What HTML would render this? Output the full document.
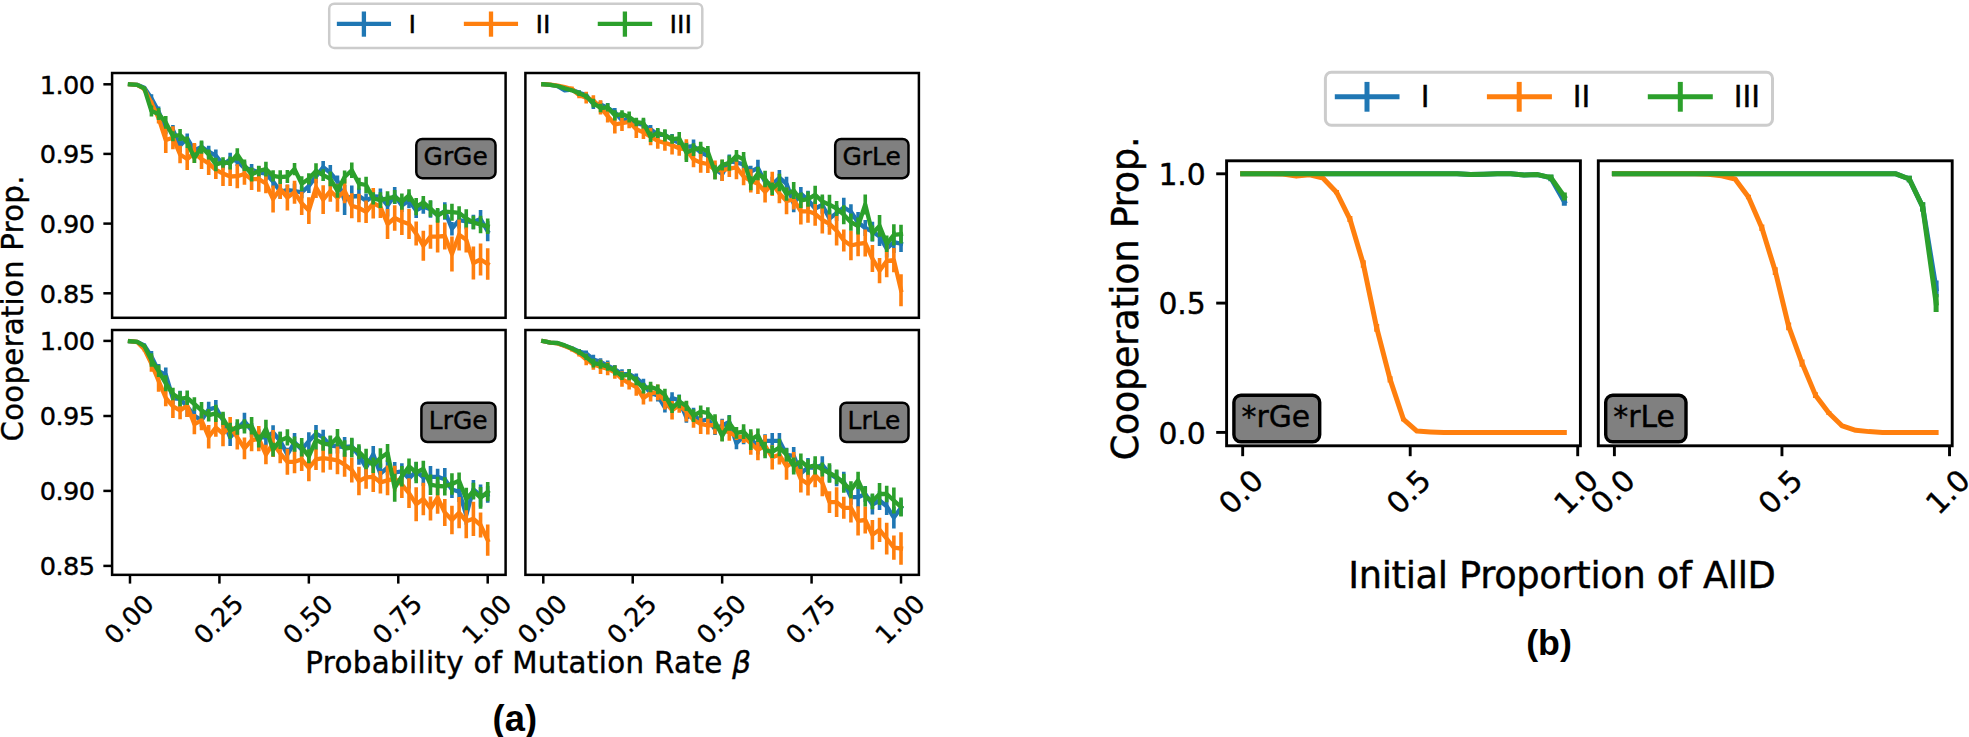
<!DOCTYPE html>
<html lang="en"><head><meta charset="utf-8"><title>Cooperation proportion figures</title>
<style>html,body{margin:0;padding:0;background:#fff}svg{display:block}text{font-family:"DejaVu Sans","Liberation Sans",sans-serif;fill:#000;stroke:#000;stroke-width:0.4px}.cap{font-family:"Liberation Sans","DejaVu Sans",sans-serif;font-weight:bold;stroke:none}</style></head><body>
<svg width="1969" height="737" viewBox="0 0 1969 737">
<rect width="1969" height="737" fill="#fff"/>
<g id="figure-a">
<g id="panel-a1">
<polyline points="129.99,84.3 137.14,84.8 144.3,87.8 151.45,98.2 158.6,111.6 165.76,128.5 172.91,130 180.07,145.6 187.22,138.3 194.38,150.5 201.53,146.8 208.69,151.7 215.84,155.7 223,164.5 230.15,159.6 237.3,161 244.46,168.2 251.61,169.7 258.77,172.4 265.92,173.7 273.08,181.6 280.23,191.5 287.39,190.2 294.54,191 301.7,192.3 308.85,186 316,176.4 323.16,167.2 330.31,172.7 337.47,181.3 344.62,200 351.78,196.5 358.93,196 366.09,200.8 373.24,196.5 380.4,196.7 387.55,205.5 394.7,195.5 401.86,205.6 409.01,200.5 416.17,210.4 423.32,206.7 430.48,209.2 437.63,215.3 444.79,211 451.94,228.7 459.1,220.2 466.25,221.4 473.4,222 480.56,219 487.71,231.2" fill="none" stroke="#1f77b4" stroke-width="4.3" stroke-linejoin="round" stroke-linecap="square"/>
<path d="M144.3 86.27V89.33M151.45 94.2V102.2M158.6 106.6V116.6M165.76 122.68V134.32M172.91 125V135M180.07 139.1V152.1M187.22 133.5V143.1M194.38 143.92V157.08M201.53 141.52V152.08M208.69 145.65V157.75M215.84 149.53V161.87M223 159.13V169.87M230.15 152.68V166.52M237.3 155.88V166.12M244.46 161.16V175.24M251.61 164.12V175.28M258.77 165.91V178.89M265.92 167.18V180.22M273.08 175.85V187.35M280.23 184.17V198.83M287.39 184.76V195.64M294.54 183.51V198.49M301.7 186.41V198.19M308.85 179.06V192.94M316 169.54V183.26M323.16 161.06V173.34M330.31 164.96V180.44M337.47 175.54V187.06M344.62 185V215M351.78 185.5V207.5M358.93 188.61V203.39M366.09 193.6V208M373.24 189.96V203.04M380.4 188.56V204.84M387.55 194.5V216.5M394.7 187.09V203.91M401.86 199.12V212.08M409.01 192.65V208.35M416.17 202.88V217.92M423.32 199.76V213.64M430.48 200.66V217.74M437.63 208.88V221.72M444.79 202.14V219.86M451.94 221.92V235.48M459.1 211.89V228.51M466.25 213.56V229.24M473.4 214.65V229.35M480.56 210.07V227.93M487.71 221.2V241.2" fill="none" stroke="#1f77b4" stroke-width="3.6"/>
<polyline points="129.99,84.3 137.14,84.9 144.3,89 151.45,103 158.6,118.1 165.76,140 172.91,137.7 180.07,154.5 187.22,159 194.38,153 201.53,159 208.69,163.3 215.84,169.8 223,173.5 230.15,176.5 237.3,176.2 244.46,174 251.61,179.2 258.77,179.2 265.92,183.5 273.08,199 280.23,189 287.39,197.5 294.54,192.3 301.7,203.3 308.85,210.6 316,187.4 323.16,199.6 330.31,191 337.47,197.8 344.62,191 351.78,205.7 358.93,208 366.09,211.8 373.24,203.3 380.4,206.8 387.55,224 394.7,218 401.86,221.5 409.01,224 416.17,233.6 423.32,245.7 430.48,236.7 437.63,236.7 444.79,236 451.94,254 459.1,234.8 466.25,239.7 473.4,263 480.56,259.5 487.71,264" fill="none" stroke="#ff7f0e" stroke-width="4.3" stroke-linejoin="round" stroke-linecap="square"/>
<path d="M144.3 86.65V91.35M151.45 100.5V105.5M158.6 112.6V123.6M165.76 127V153M172.91 126.13V149.27M180.07 145.77V163.23M187.22 147.91V170.09M194.38 142.88V163.12M201.53 149.08V168.92M208.69 151.59V175.01M215.84 160.72V178.88M223 161V186M230.15 167.12V185.88M237.3 164.17V188.23M244.46 163.19V184.81M251.61 168.43V189.97M258.77 166.67V191.73M265.92 173.71V193.29M273.08 185.57V212.43M280.23 178.98V199.02M287.39 184.52V210.48M294.54 180.81V203.79M301.7 191.67V214.93M308.85 197.26V223.94M316 176.88V197.92M323.16 185.24V213.96M330.31 180.34V201.66M337.47 183.87V211.73M344.62 178.84V203.16M351.78 193.2V218.2M358.93 193.87V222.13M366.09 200.55V223.05M373.24 188.02V218.58M380.4 195.5V218.1M387.55 209.1V238.9M394.7 205.18V230.82M401.86 208.12V234.88M409.01 209.09V238.91M416.17 221.6V245.6M423.32 230.7V260.7M430.48 224.76V248.64M437.63 220.84V252.56M444.79 222.53V249.47M451.94 236.5V271.5M459.1 219.13V250.47M466.25 226.95V252.45M473.4 246.5V279.5M480.56 243.5V275.5M487.71 248.3V279.7" fill="none" stroke="#ff7f0e" stroke-width="3.6"/>
<polyline points="129.99,84.3 137.14,84.8 144.3,88.4 151.45,111 158.6,114 165.76,122.4 172.91,136.2 180.07,135 187.22,142.3 194.38,157.8 201.53,147.1 208.69,154.5 215.84,164.5 223,162.4 230.15,163 237.3,154.5 244.46,165.2 251.61,174.4 258.77,171 265.92,169.1 273.08,175.9 280.23,177.1 287.39,176.5 294.54,169.1 301.7,183.7 308.85,178.8 316,170.9 323.16,175.2 330.31,178.8 337.47,191 344.62,177 351.78,170.3 358.93,183.7 366.09,185 373.24,198.4 380.4,200.1 387.55,198.3 394.7,196.8 401.86,201.6 409.01,195.5 416.17,206.7 423.32,202.5 430.48,208.6 437.63,215.3 444.79,211.6 451.94,212.2 459.1,212.9 466.25,218.4 473.4,222.6 480.56,224.5 487.71,226.3" fill="none" stroke="#2ca02c" stroke-width="4.3" stroke-linejoin="round" stroke-linecap="square"/>
<path d="M144.3 87.17V89.63M151.45 105.5V116.5M158.6 108V120M165.76 116.01V128.79M172.91 131.23V141.17M180.07 129.03V140.97M187.22 136.5V148.1M194.38 152.5V163.1M201.53 140.51V153.69M208.69 149.55V159.45M215.84 157.66V171.34M223 157.13V167.67M230.15 156.58V169.42M237.3 148.36V160.64M244.46 159.51V170.89M251.61 167.4V181.4M258.77 165.72V176.28M265.92 161.8V176.4M273.08 170.33V181.47M280.23 170.23V183.97M287.39 170.03V182.97M294.54 163.01V175.19M301.7 176.31V191.09M308.85 173.19V184.41M316 163.15V178.65M323.16 169.33V181.07M330.31 171.47V186.13M337.47 184.21V197.79M344.62 170.5V183.5M351.78 162.52V178.08M358.93 177.75V189.65M366.09 176.8V193.2M373.24 192.23V204.57M380.4 192.31V207.89M387.55 191.19V205.41M394.7 189.89V203.71M401.86 193.43V209.77M409.01 189.21V201.79M416.17 198.06V215.34M423.32 196.03V208.97M430.48 200.35V216.85M437.63 207.88V222.72M444.79 204.27V218.93M451.94 203.65V220.75M459.1 206.26V219.54M466.25 209.31V227.49M473.4 215.83V229.37M480.56 215.78V233.22M487.71 218.57V234.03" fill="none" stroke="#2ca02c" stroke-width="3.6"/>
<rect x="112.1" y="73" width="393.5" height="244.8" fill="none" stroke="#000" stroke-width="2.5"/>
</g>
<g id="panel-a2">
<polyline points="543.29,84.2 550.44,84.8 557.6,86.2 564.75,90.3 571.9,89.7 579.06,92.7 586.21,95.1 593.37,104.3 600.52,104.3 607.68,108 614.83,112.2 621.99,120.2 629.14,119 636.3,123.2 643.45,125 650.6,129.3 657.76,134.8 664.91,134.8 672.07,139.7 679.22,142.8 686.38,147 693.53,146.2 700.69,152.4 707.84,155.7 715,169.2 722.15,174.1 729.3,161.3 736.46,162.5 743.61,164.3 750.77,171.6 757.92,168 765.08,182 772.23,184.5 779.39,177.7 786.54,183.8 793.7,203.4 800.85,193.6 808,200 815.16,208.5 822.31,205 829.47,218.5 836.62,213.1 843.78,207.5 850.93,211.7 858.09,222.5 865.24,228 872.4,231.6 879.55,236.5 886.7,248.7 893.86,242.2 901.01,243.8" fill="none" stroke="#1f77b4" stroke-width="4.3" stroke-linejoin="round" stroke-linecap="square"/>
<path d="M571.9 88.26V91.14M579.06 90.21V95.19M586.21 92.19V98.01M593.37 99.56V109.04M600.52 100.72V107.88M607.68 103V113M614.83 108.1V116.3M621.99 115.41V124.99M629.14 114.02V123.98M636.3 118.79V127.61M643.45 119.22V130.78M650.6 124.95V133.65M657.76 128.72V140.88M664.91 129.9V139.7M672.07 133.92V145.48M679.22 136.9V148.7M686.38 141.72V152.28M693.53 139.38V153.02M700.69 147.27V157.53M707.84 148.55V162.85M715 163.51V174.89M722.15 167.31V180.89M729.3 154.5V168.1M736.46 156.35V168.65M743.61 156.45V172.15M750.77 165.69V177.51M757.92 159.76V176.24M765.08 175.53V188.47M772.23 176.69V192.31M779.39 170.02V185.38M786.54 176.75V190.85M793.7 194.53V212.27M800.85 186.91V200.29M808 190.68V209.32M815.16 201.25V215.75M822.31 196.15V213.85M829.47 209.94V227.06M836.62 205.15V221.05M843.78 197.63V217.37M850.93 204.22V219.18M858.09 212.1V232.9M865.24 219.99V236.01M872.4 221.7V241.5M879.55 227.09V245.91M886.7 239.82V257.58M893.86 231.33V253.07M901.01 235.52V252.08" fill="none" stroke="#1f77b4" stroke-width="3.6"/>
<polyline points="543.29,84.2 550.44,84.7 557.6,85.6 564.75,87.2 571.9,89 579.06,95.1 586.21,97.6 593.37,100.6 600.52,107.4 607.68,116 614.83,124.5 621.99,123.2 629.14,122 636.3,129.3 643.45,132.4 650.6,136.7 657.76,141 664.91,142.8 672.07,145.2 679.22,148.3 686.38,149.5 693.53,159.5 700.69,162.6 707.84,164 715,169.8 722.15,170.4 729.3,168.6 736.46,167.4 743.61,176.5 750.77,180.8 757.92,183.8 765.08,191.8 772.23,183.8 779.39,193.6 786.54,201 793.7,199.7 800.85,211.4 808,211.3 815.16,213.8 822.31,220 829.47,223.8 836.62,230.8 843.78,240.6 850.93,245.5 858.09,243.8 865.24,243 872.4,258.5 879.55,270.7 886.7,261 893.86,260.1 901.01,290.2" fill="none" stroke="#ff7f0e" stroke-width="4.3" stroke-linejoin="round" stroke-linecap="square"/>
<path d="M571.9 86.56V91.44M579.06 91.99V98.21M586.21 91.78V103.42M593.37 95.13V106.07M600.52 100.32V114.48M607.68 109.42V122.58M614.83 115.5V133.5M621.99 115.33V131.07M629.14 115.81V128.19M636.3 120.64V137.96M643.45 125.81V138.99M650.6 128.12V145.28M657.76 133.19V148.81M664.91 134.92V150.68M672.07 135.9V154.5M679.22 140.95V155.65M686.38 139.29V159.71M693.53 151.8V167.2M700.69 152.51V172.69M707.84 154.97V173.03M715 160.57V179.03M722.15 159.7V181.1M729.3 160.08V177.12M736.46 155.65V179.15M743.61 167.69V185.31M750.77 169.18V192.42M757.92 173.57V194.03M765.08 181.2V202.4M772.23 171.71V195.89M779.39 183.89V203.31M786.54 187.71V214.29M793.7 189.79V209.61M800.85 198.24V224.56M808 199.89V222.71M815.16 201.8V225.8M822.31 206.54V233.46M829.47 212.89V234.71M836.62 215.98V245.62M843.78 229.6V251.6M850.93 230.79V260.21M858.09 231.23V256.37M865.24 229.59V256.41M872.4 245.1V271.9M879.55 258.1V283.3M886.7 244.66V277.34M893.86 248V272.2M901.01 274.2V306.2" fill="none" stroke="#ff7f0e" stroke-width="3.6"/>
<polyline points="543.29,84.2 550.44,84.8 557.6,86 564.75,88.4 571.9,90.3 579.06,93.3 586.21,96.4 593.37,103.1 600.52,108 607.68,107.4 614.83,115.3 621.99,114.1 629.14,117.1 636.3,122 643.45,123.2 650.6,136.7 657.76,133 664.91,135.4 672.07,139.1 679.22,138.5 686.38,152.5 693.53,149.6 700.69,147.8 707.84,151.7 715,172.3 722.15,164.9 729.3,163.1 736.46,155.8 743.61,159.4 750.77,183.2 757.92,173.5 765.08,179 772.23,188.7 779.39,182.6 786.54,194.2 793.7,190.6 800.85,200.3 808,199.1 815.16,194.8 822.31,201.5 829.47,204.7 836.62,208.5 843.78,214.7 850.93,222.2 858.09,226 865.24,204.5 872.4,233.3 879.55,225.9 886.7,243.8 893.86,234.9 901.01,234.1" fill="none" stroke="#2ca02c" stroke-width="4.3" stroke-linejoin="round" stroke-linecap="square"/>
<path d="M571.9 89.11V91.49M579.06 90.57V96.03M586.21 93.51V99.29M593.37 98.75V107.45M600.52 103.68V112.32M607.68 103.37V111.43M614.83 110.18V120.42M621.99 110.18V118.02M629.14 111.58V122.62M636.3 117.67V126.33M643.45 117.84V128.56M650.6 131.49V141.91M657.76 128.08V137.92M664.91 129.26V141.54M672.07 134.4V143.8M679.22 131.9V145.1M686.38 143.1V161.9M693.53 143.21V155.99M700.69 141.71V153.89M707.84 145.88V157.52M715 165.15V179.45M722.15 159.41V170.39M729.3 155.43V170.77M736.46 149.91V161.69M743.61 151.97V166.83M750.77 176.24V190.16M757.92 166.77V180.23M765.08 170.85V187.15M772.23 182.41V194.99M779.39 173.85V191.35M786.54 187.54V200.86M793.7 182.12V199.08M800.85 192.49V208.11M808 191.44V206.76M815.16 185.67V203.93M822.31 194.4V208.6M829.47 194.87V214.53M836.62 201.08V215.92M843.78 205.16V224.24M850.93 213.55V230.85M858.09 217.39V234.61M865.24 194.39V214.61M872.4 225.39V241.21M879.55 214.99V236.81M886.7 235.62V251.98M893.86 224.29V245.51M901.01 224.63V243.57" fill="none" stroke="#2ca02c" stroke-width="3.6"/>
<rect x="525.4" y="73" width="393.5" height="244.8" fill="none" stroke="#000" stroke-width="2.5"/>
</g>
<g id="panel-a3">
<polyline points="129.99,341.2 137.14,341.8 144.3,345.5 151.45,356.4 158.6,371.1 165.76,374.7 172.91,398.4 180.07,398.8 187.22,406.5 194.38,415.8 201.53,420.2 208.69,409.4 215.84,407.6 223,420.2 230.15,437.4 237.3,428.8 244.46,421.5 251.61,430 258.77,437.4 265.92,437.4 273.08,432.5 280.23,441 287.39,454.5 294.54,442.3 301.7,449.6 308.85,441 316,433.7 323.16,437.4 330.31,445.7 337.47,446.4 344.62,447 351.78,446.3 358.93,455.4 366.09,467.6 373.24,454.2 380.4,473.7 387.55,467.6 394.7,472.5 401.86,471.3 409.01,478.6 416.17,471.3 423.32,477.4 430.48,476.8 437.63,476.8 444.79,479.2 451.94,489.5 459.1,491.7 466.25,515 473.4,489.3 480.56,495.6 487.71,494.4" fill="none" stroke="#1f77b4" stroke-width="4.3" stroke-linejoin="round" stroke-linecap="square"/>
<path d="M144.3 343.59V347.41M151.45 350.96V361.84M158.6 364.08V378.12M165.76 367.42V381.98M172.91 392.16V404.64M180.07 390.67V406.93M187.22 396V417M194.38 407.58V424.02M201.53 413.6V426.8M208.69 401.84V416.96M215.84 399.88V415.32M223 413.49V426.91M230.15 428.75V446.05M237.3 422.4V435.2M244.46 412.71V430.29M251.61 423.02V436.98M258.77 429.29V445.51M265.92 429.25V445.55M273.08 425.31V439.69M280.23 431.83V450.17M287.39 447.7V461.3M294.54 432.93V451.67M301.7 442.24V456.96M308.85 432.33V449.67M316 425.12V442.28M323.16 429.72V445.08M330.31 436.02V455.38M337.47 439.19V453.61M344.62 437.06V456.94M351.78 438.57V454.03M358.93 446.16V464.64M366.09 458.61V476.59M373.24 446.03V462.37M380.4 463.52V483.88M387.55 459.99V475.21M394.7 461.99V483.01M401.86 463.2V479.4M409.01 468.79V488.41M416.17 461.9V480.7M423.32 468.73V486.07M430.48 466.12V487.48M437.63 468.77V484.83M444.79 468.12V490.28M451.94 481.03V497.97M459.1 481.31V502.09M466.25 505.2V524.8M473.4 480.12V498.48M480.56 484.43V506.77M487.71 485.95V502.85" fill="none" stroke="#1f77b4" stroke-width="3.6"/>
<polyline points="129.99,341.2 137.14,342 144.3,349.1 151.45,363.7 158.6,380.8 165.76,398 172.91,406.4 180.07,410.4 187.22,405.8 194.38,424.2 201.53,420.3 208.69,436.8 215.84,427.6 223,433.7 230.15,426.4 237.3,437.4 244.46,448.4 251.61,440.4 258.77,438.6 265.92,454.5 273.08,443.5 280.23,453.3 287.39,461.8 294.54,461.8 301.7,459.4 308.85,468 316,459.4 323.16,458.2 330.31,459.2 337.47,460.4 344.62,464.7 351.78,470 358.93,481 366.09,477.4 373.24,476.8 380.4,482.3 387.55,480.4 394.7,478.6 401.86,484.7 409.01,493.2 416.17,504.2 423.32,499 430.48,508.5 437.63,497.8 444.79,512.5 451.94,520 459.1,512.7 466.25,521.3 473.4,518.8 480.56,525 487.71,540.2" fill="none" stroke="#ff7f0e" stroke-width="4.3" stroke-linejoin="round" stroke-linecap="square"/>
<path d="M144.3 346.75V351.45M151.45 355.75V371.65M158.6 369.92V391.68M165.76 389.63V406.37M172.91 394.83V417.97M180.07 401.67V419.13M187.22 394.71V416.89M194.38 414.08V434.32M201.53 410.38V430.22M208.69 425.09V448.51M215.84 418.52V436.68M223 421.2V446.2M230.15 417.02V435.78M237.3 425.37V449.43M244.46 437.59V459.21M251.61 429.63V451.17M258.77 426.07V451.13M265.92 444.71V464.29M273.08 430.07V456.93M280.23 443.28V463.32M287.39 448.82V474.78M294.54 450.31V473.29M301.7 447.77V471.03M308.85 454.66V481.34M316 448.88V469.92M323.16 443.84V472.56M330.31 448.54V469.86M337.47 446.47V474.33M344.62 452.54V476.86M351.78 457.5V482.5M358.93 466.87V495.13M366.09 466.15V488.65M373.24 461.52V492.08M380.4 471V493.6M387.55 465.5V495.3M394.7 465.78V491.42M401.86 471.32V498.08M409.01 478.29V508.11M416.17 487.2V521.2M423.32 482.81V515.19M430.48 496.56V520.44M437.63 481.94V513.66M444.79 499.03V525.97M451.94 505.72V534.28M459.1 497.03V528.37M466.25 504.3V538.3M473.4 501.7V535.9M480.56 512.42V537.58M487.71 524.6V555.8" fill="none" stroke="#ff7f0e" stroke-width="3.6"/>
<polyline points="129.99,341.2 137.14,341.8 144.3,346 151.45,360.1 158.6,371.1 165.76,383.3 172.91,394 180.07,398.7 187.22,397.8 194.38,404 201.53,410.3 208.69,415.2 215.84,413.4 223,418.3 230.15,430.7 237.3,427 244.46,426.4 251.61,425.8 258.77,441 265.92,428.8 273.08,449.6 280.23,440.4 287.39,437.4 294.54,444.1 301.7,447.2 308.85,456.3 316,439.8 323.16,443.5 330.31,444.6 337.47,437.5 344.62,448.5 351.78,447.5 358.93,451.7 366.09,459 373.24,465.2 380.4,457.9 387.55,453 394.7,487.8 401.86,476.2 409.01,466.4 416.17,472.5 423.32,468.8 430.48,484.7 437.63,486 444.79,486.3 451.94,484 459.1,480.7 466.25,499 473.4,491.1 480.56,497.8 487.71,491.7" fill="none" stroke="#2ca02c" stroke-width="4.3" stroke-linejoin="round" stroke-linecap="square"/>
<path d="M144.3 344.46V347.54M151.45 353.33V366.87M158.6 365.32V376.88M165.76 375.31V391.29M172.91 387.79V400.21M180.07 391.24V406.16M187.22 390.55V405.05M194.38 397.37V410.63M201.53 402.06V418.54M208.69 409.01V421.39M215.84 404.85V421.95M223 411.71V424.89M230.15 422.68V438.72M237.3 419.33V434.67M244.46 419.28V433.52M251.61 417.05V434.55M258.77 434.4V447.6M265.92 419.68V437.92M273.08 442.63V456.57M280.23 431.81V448.99M287.39 429.32V445.48M294.54 436.48V451.72M301.7 437.96V456.44M308.85 449.28V463.32M316 430.12V449.48M323.16 436.16V450.84M330.31 435.44V453.76M337.47 429.01V445.99M344.62 440.37V456.63M351.78 437.77V457.23M358.93 444.26V459.14M366.09 448.75V469.25M373.24 457.48V472.92M380.4 448.17V467.63M387.55 444.11V461.89M394.7 473.8V501.8M401.86 465.99V486.41M409.01 458.54V474.26M416.17 461.69V483.31M423.32 460.71V476.89M430.48 474.39V495.01M437.63 476.72V495.28M444.79 477.13V495.47M451.94 473.32V494.68M459.1 472.4V489M466.25 487.64V510.36M473.4 482.64V499.56M480.56 486.9V508.7M487.71 482.04V501.36" fill="none" stroke="#2ca02c" stroke-width="3.6"/>
<rect x="112.1" y="330" width="393.5" height="244.85" fill="none" stroke="#000" stroke-width="2.5"/>
</g>
<g id="panel-a4">
<polyline points="543.29,341.2 550.44,342.7 557.6,343.2 564.75,345.8 571.9,348.3 579.06,351.5 586.21,353.4 593.37,359.5 600.52,361.9 607.68,365.6 614.83,369.2 621.99,374.1 629.14,374.1 636.3,377.8 643.45,384.5 650.6,393 657.76,395.5 664.91,407.7 672.07,398 679.22,400.4 686.38,417.5 693.53,414.5 700.69,421 707.84,419.3 715,429.2 722.15,425.5 729.3,421.9 736.46,443.2 743.61,436.5 750.77,439 757.92,446.3 765.08,440.8 772.23,440.8 779.39,440.8 786.54,454.8 793.7,455.8 800.85,473.4 808,467.3 815.16,467.8 822.31,465 829.47,473.6 836.62,478.2 843.78,481.7 850.93,497.2 858.09,497.2 865.24,494 872.4,504.5 879.55,500.5 886.7,506.2 893.86,517.6 901.01,507.8" fill="none" stroke="#1f77b4" stroke-width="4.3" stroke-linejoin="round" stroke-linecap="square"/>
<path d="M571.9 346.86V349.74M579.06 349.01V353.99M586.21 350.49V356.31M593.37 354.76V364.24M600.52 358.32V365.48M607.68 360.6V370.6M614.83 365.1V373.3M621.99 369.31V378.89M629.14 369.12V379.08M636.3 373.39V382.21M643.45 378.72V390.28M650.6 388.65V397.35M657.76 389.42V401.58M664.91 402.8V412.6M672.07 392.22V403.78M679.22 394.5V406.3M686.38 412.22V422.78M693.53 407.68V421.32M700.69 415.87V426.13M707.84 412.15V426.45M715 423.51V434.89M722.15 418.71V432.29M729.3 415.1V428.7M736.46 437.05V449.35M743.61 428.65V444.35M750.77 433.09V444.91M757.92 438.06V454.54M765.08 434.33V447.27M772.23 432.99V448.61M779.39 433.12V448.48M786.54 447.75V461.85M793.7 446.93V464.67M800.85 466.71V480.09M808 457.98V476.62M815.16 460.55V475.05M822.31 456.15V473.85M829.47 465.04V482.16M836.62 470.25V486.15M843.78 471.83V491.57M850.93 489.72V504.68M858.09 486.8V507.6M865.24 485.99V502.01M872.4 494.6V514.4M879.55 491.09V509.91M886.7 497.32V515.08M893.86 506.73V528.47M901.01 499.52V516.08" fill="none" stroke="#1f77b4" stroke-width="3.6"/>
<polyline points="543.29,341.2 550.44,342.7 557.6,343.4 564.75,346 571.9,349.1 579.06,353.4 586.21,359.5 593.37,364.4 600.52,366.8 607.68,368.6 614.83,372.3 621.99,379 629.14,383.3 636.3,387 643.45,398 650.6,393 657.76,392.4 664.91,401.6 672.07,410.2 679.22,405.3 686.38,411.4 693.53,420 700.69,423.8 707.84,425.5 715,424.9 722.15,430.4 729.3,432.2 736.46,436.5 743.61,437.1 750.77,443.2 757.92,450 765.08,445.7 772.23,457.3 779.39,454.8 786.54,466.4 793.7,462 800.85,479.3 808,484 815.16,475.2 822.31,482.8 829.47,502.1 836.62,502.1 843.78,507.8 850.93,507.8 858.09,520.8 865.24,520 872.4,534.7 879.55,529.8 886.7,538.7 893.86,547.7 901.01,548.5" fill="none" stroke="#ff7f0e" stroke-width="4.3" stroke-linejoin="round" stroke-linecap="square"/>
<path d="M571.9 346.66V351.54M579.06 350.29V356.51M586.21 353.68V365.32M593.37 358.93V369.87M600.52 359.72V373.88M607.68 362.02V375.18M614.83 365.74V378.86M621.99 371.13V386.87M629.14 377.11V389.49M636.3 378.34V395.66M643.45 391.41V404.59M650.6 384.42V401.58M657.76 384.59V400.21M664.91 393.72V409.48M672.07 400.9V419.5M679.22 397.95V412.65M686.38 401.19V421.61M693.53 412.3V427.7M700.69 413.71V433.89M707.84 416.47V434.53M715 415.67V434.13M722.15 419.7V441.1M729.3 423.68V440.72M736.46 433V440M743.61 431.1V443.1M750.77 431.58V454.82M757.92 439.77V460.23M765.08 435.1V456.3M772.23 445.21V469.39M779.39 445.09V464.51M786.54 453.11V479.69M793.7 452.09V471.91M800.85 466.14V492.46M808 472.59V495.41M815.16 463.2V487.2M822.31 469.34V496.26M829.47 491.19V513.01M836.62 487.28V516.92M843.78 496.8V518.8M850.93 493.09V522.51M858.09 506.2V535.4M865.24 506.59V533.41M872.4 519.9V549.5M879.55 517.68V541.92M886.7 522.8V554.6M893.86 535.6V559.8M901.01 532.23V564.77" fill="none" stroke="#ff7f0e" stroke-width="3.6"/>
<polyline points="543.29,341.2 550.44,342.7 557.6,343 564.75,345.4 571.9,348.5 579.06,352.1 586.21,357 593.37,363.1 600.52,364.4 607.68,366.8 614.83,370.5 621.99,376 629.14,374.7 636.3,380.8 643.45,388.2 650.6,387 657.76,389.4 664.91,394.9 672.07,408.3 679.22,401.6 686.38,405.9 693.53,415.7 700.69,411.7 707.84,413 715,421.5 722.15,435.9 729.3,423.1 736.46,432.9 743.61,431.6 750.77,439.6 757.92,435.3 765.08,450 772.23,451.8 779.39,447.5 786.54,454.8 793.7,466 800.85,461.2 808,467 815.16,465.3 822.31,469.5 829.47,473 836.62,476.8 843.78,483.3 850.93,489.9 858.09,480.3 865.24,496.4 872.4,501.3 879.55,494 886.7,494 893.86,500.5 901.01,507" fill="none" stroke="#2ca02c" stroke-width="4.3" stroke-linejoin="round" stroke-linecap="square"/>
<path d="M571.9 347.31V349.69M579.06 349.37V354.83M586.21 354.11V359.89M593.37 358.75V367.45M600.52 360.08V368.72M607.68 362.77V370.83M614.83 365.38V375.62M621.99 372.08V379.92M629.14 369.18V380.22M636.3 376.47V385.13M643.45 382.84V393.56M650.6 381.79V392.21M657.76 384.48V394.32M664.91 388.76V401.04M672.07 403.6V413M679.22 395V408.2M686.38 400.79V411.01M693.53 409.31V422.09M700.69 405.61V417.79M707.84 407.18V418.82M715 414.35V428.65M722.15 430.41V441.39M729.3 415.43V430.77M736.46 427.01V438.79M743.61 424.17V439.03M750.77 429.2V450M757.92 428.57V442.03M765.08 441.85V458.15M772.23 445.51V458.09M779.39 438.75V456.25M786.54 448.14V461.46M793.7 457.52V474.48M800.85 453.39V469.01M808 459.34V474.66M815.16 456.17V474.43M822.31 462.4V476.6M829.47 463.17V482.83M836.62 469.38V484.22M843.78 473.76V492.84M850.93 481.25V498.55M858.09 471.69V488.91M865.24 486.29V506.51M872.4 493.39V509.21M879.55 483.09V504.91M886.7 485.82V502.18M893.86 487.5V513.5M901.01 497.53V516.47" fill="none" stroke="#2ca02c" stroke-width="3.6"/>
<rect x="525.4" y="330" width="393.5" height="244.85" fill="none" stroke="#000" stroke-width="2.5"/>
</g>
<path d="M103.35 84.3H112.1" stroke="#000" stroke-width="2.5"/>
<text x="39.85" y="93.57" textLength="55.2" lengthAdjust="spacing" font-size="25.6">1.00</text>
<path d="M103.35 153.9H112.1" stroke="#000" stroke-width="2.5"/>
<text x="39.85" y="163.17" textLength="55.2" lengthAdjust="spacing" font-size="25.6">0.95</text>
<path d="M103.35 223.6H112.1" stroke="#000" stroke-width="2.5"/>
<text x="39.85" y="232.87" textLength="55.2" lengthAdjust="spacing" font-size="25.6">0.90</text>
<path d="M103.35 293.3H112.1" stroke="#000" stroke-width="2.5"/>
<text x="39.85" y="302.57" textLength="55.2" lengthAdjust="spacing" font-size="25.6">0.85</text>
<path d="M103.35 340.9H112.1" stroke="#000" stroke-width="2.5"/>
<text x="39.85" y="350.17" textLength="55.2" lengthAdjust="spacing" font-size="25.6">1.00</text>
<path d="M103.35 416H112.1" stroke="#000" stroke-width="2.5"/>
<text x="39.85" y="425.27" textLength="55.2" lengthAdjust="spacing" font-size="25.6">0.95</text>
<path d="M103.35 490.9H112.1" stroke="#000" stroke-width="2.5"/>
<text x="39.85" y="500.17" textLength="55.2" lengthAdjust="spacing" font-size="25.6">0.90</text>
<path d="M103.35 565.9H112.1" stroke="#000" stroke-width="2.5"/>
<text x="39.85" y="575.17" textLength="55.2" lengthAdjust="spacing" font-size="25.6">0.85</text>
<path d="M129.99 574.85V583.6" stroke="#000" stroke-width="2.5"/>
<text transform="translate(128.79 619) rotate(-45)" text-anchor="middle" font-size="25.6" y="9.33">0.00</text>
<path d="M219.42 574.85V583.6" stroke="#000" stroke-width="2.5"/>
<text transform="translate(218.22 619) rotate(-45)" text-anchor="middle" font-size="25.6" y="9.33">0.25</text>
<path d="M308.85 574.85V583.6" stroke="#000" stroke-width="2.5"/>
<text transform="translate(307.65 619) rotate(-45)" text-anchor="middle" font-size="25.6" y="9.33">0.50</text>
<path d="M398.28 574.85V583.6" stroke="#000" stroke-width="2.5"/>
<text transform="translate(397.08 619) rotate(-45)" text-anchor="middle" font-size="25.6" y="9.33">0.75</text>
<path d="M487.71 574.85V583.6" stroke="#000" stroke-width="2.5"/>
<text transform="translate(486.51 619) rotate(-45)" text-anchor="middle" font-size="25.6" y="9.33">1.00</text>
<path d="M543.29 574.85V583.6" stroke="#000" stroke-width="2.5"/>
<text transform="translate(542.09 619) rotate(-45)" text-anchor="middle" font-size="25.6" y="9.33">0.00</text>
<path d="M632.72 574.85V583.6" stroke="#000" stroke-width="2.5"/>
<text transform="translate(631.52 619) rotate(-45)" text-anchor="middle" font-size="25.6" y="9.33">0.25</text>
<path d="M722.15 574.85V583.6" stroke="#000" stroke-width="2.5"/>
<text transform="translate(720.95 619) rotate(-45)" text-anchor="middle" font-size="25.6" y="9.33">0.50</text>
<path d="M811.58 574.85V583.6" stroke="#000" stroke-width="2.5"/>
<text transform="translate(810.38 619) rotate(-45)" text-anchor="middle" font-size="25.6" y="9.33">0.75</text>
<path d="M901.01 574.85V583.6" stroke="#000" stroke-width="2.5"/>
<text transform="translate(899.81 619) rotate(-45)" text-anchor="middle" font-size="25.6" y="9.33">1.00</text>
<rect x="416.3" y="138.9" width="79.2" height="39.3" rx="6" ry="6" fill="#808080" stroke="#000" stroke-width="2.5"/>
<text x="423.6" y="165" font-size="24.9">GrGe</text>
<rect x="835.2" y="138.9" width="73.3" height="39.3" rx="6" ry="6" fill="#808080" stroke="#000" stroke-width="2.5"/>
<text x="842.5" y="165" font-size="24.9">GrLe</text>
<rect x="421.4" y="402.7" width="74.1" height="39.3" rx="6" ry="6" fill="#808080" stroke="#000" stroke-width="2.5"/>
<text x="428.8" y="428.8" font-size="24.9">LrGe</text>
<rect x="840.4" y="402.7" width="68.1" height="39.3" rx="6" ry="6" fill="#808080" stroke="#000" stroke-width="2.5"/>
<text x="847.6" y="428.8" font-size="24.9">LrLe</text>
<text transform="translate(23.1 441.5) rotate(-90)" textLength="266" lengthAdjust="spacing" font-size="29.3">Cooperation Prop.</text>
<text x="305.2" y="672.7" textLength="445.8" lengthAdjust="spacing" font-size="29.3">Probability of Mutation Rate <tspan font-style="italic">β</tspan></text>
<g id="legend-a">
<rect x="329.2" y="3.7" width="373.1" height="44.2" rx="5" ry="5" fill="#fff" stroke="#ccc" stroke-width="2.5"/>
<path d="M339 23.9H388.9" stroke="#1f77b4" stroke-width="4.3" stroke-linecap="square"/>
<path d="M363.9 11.5V36.7" stroke="#1f77b4" stroke-width="4.3"/>
<text x="408.4" y="32.7" font-size="25.6">I</text>
<path d="M466 23.9H515.9" stroke="#ff7f0e" stroke-width="4.3" stroke-linecap="square"/>
<path d="M491 11.5V36.7" stroke="#ff7f0e" stroke-width="4.3"/>
<text x="535.5" y="32.7" font-size="25.6">II</text>
<path d="M599.9 23.9H650" stroke="#2ca02c" stroke-width="4.3" stroke-linecap="square"/>
<path d="M624.9 11.5V36.7" stroke="#2ca02c" stroke-width="4.3"/>
<text x="669.4" y="32.7" font-size="25.6">III</text>
</g>
<text class="cap" x="514.8" y="730.7" text-anchor="middle" font-size="36.3">(a)</text>
</g>
<g id="figure-b">
<g id="panel-b5">
<polyline points="1242.68,173.8 1256.08,173.8 1269.48,173.8 1282.89,173.8 1296.29,173.8 1309.69,173.8 1323.09,173.8 1336.49,173.8 1349.89,173.8 1363.3,173.8 1376.7,173.8 1390.1,173.8 1403.5,173.8 1416.9,173.8 1430.3,173.8 1443.7,173.8 1457.11,173.8 1470.51,174.58 1483.91,174.32 1497.31,173.8 1510.71,173.8 1524.11,175.09 1537.52,174.58 1550.92,177.94 1564.32,201.47" fill="none" stroke="#1f77b4" stroke-width="5" stroke-linejoin="round" stroke-linecap="square"/>
<path d="M1550.92 174.75V181.13M1564.32 197.19V205.75" fill="none" stroke="#1f77b4" stroke-width="5"/>
<polyline points="1242.68,173.8 1256.08,173.8 1269.48,173.8 1282.89,174.06 1296.29,176.13 1309.69,174.83 1323.09,178.2 1336.49,192.16 1349.89,219.06 1363.3,264.05 1376.7,327.93 1390.1,379.39 1403.5,419.47 1416.9,431.11 1430.3,431.88 1443.7,432.4 1457.11,432.4 1470.51,432.4 1483.91,432.4 1497.31,432.4 1510.71,432.4 1524.11,432.4 1537.52,432.4 1550.92,432.4 1564.32,432.4" fill="none" stroke="#ff7f0e" stroke-width="5" stroke-linejoin="round" stroke-linecap="square"/>
<path d="M1323.09 177.16V179.23M1336.49 190.11V194.22M1349.89 216.02V222.09M1363.3 260.24V267.86M1376.7 324V331.85M1390.1 376.16V382.62M1403.5 417.73V421.21" fill="none" stroke="#ff7f0e" stroke-width="5"/>
<polyline points="1242.68,173.8 1256.08,173.8 1269.48,173.8 1282.89,173.8 1296.29,173.8 1309.69,173.8 1323.09,173.8 1336.49,173.8 1349.89,173.8 1363.3,173.8 1376.7,173.8 1390.1,173.8 1403.5,173.8 1416.9,173.8 1430.3,173.8 1443.7,173.8 1457.11,173.8 1470.51,174.58 1483.91,174.32 1497.31,173.8 1510.71,173.8 1524.11,175.09 1537.52,174.58 1550.92,177.68 1564.32,196.56" fill="none" stroke="#2ca02c" stroke-width="5" stroke-linejoin="round" stroke-linecap="square"/>
<path d="M1550.92 174.5V180.86M1564.32 192.5V200.61" fill="none" stroke="#2ca02c" stroke-width="5"/>
<rect x="1226.6" y="160.8" width="353.8" height="285" fill="none" stroke="#000" stroke-width="2.9"/>
<path d="M1242.68 445.8V456.2" stroke="#000" stroke-width="2.9"/>
<text transform="translate(1240.68 491.5) rotate(-45)" text-anchor="middle" font-size="29.8" y="10.86">0.0</text>
<path d="M1410.2 445.8V456.2" stroke="#000" stroke-width="2.9"/>
<text transform="translate(1408.2 491.5) rotate(-45)" text-anchor="middle" font-size="29.8" y="10.86">0.5</text>
<path d="M1577.72 445.8V456.2" stroke="#000" stroke-width="2.9"/>
<text transform="translate(1575.72 491.5) rotate(-45)" text-anchor="middle" font-size="29.8" y="10.86">1.0</text>
</g>
<g id="panel-b6">
<polyline points="1614.39,173.8 1627.79,173.8 1641.2,173.8 1654.6,173.8 1668.01,173.8 1681.41,173.8 1694.82,173.8 1708.22,173.8 1721.63,173.8 1735.03,173.8 1748.44,173.8 1761.84,173.8 1775.25,173.8 1788.66,173.8 1802.06,173.8 1815.47,173.8 1828.87,173.8 1842.28,173.8 1855.68,173.8 1869.09,173.8 1882.49,173.8 1895.9,173.8 1909.3,178.97 1922.71,206.9 1936.11,288.88" fill="none" stroke="#1f77b4" stroke-width="5" stroke-linejoin="round" stroke-linecap="square"/>
<path d="M1909.3 175.73V182.21M1922.71 202.36V211.44M1936.11 280.54V297.22" fill="none" stroke="#1f77b4" stroke-width="5"/>
<polyline points="1614.39,173.8 1627.79,173.8 1641.2,173.8 1654.6,173.8 1668.01,173.8 1681.41,173.8 1694.82,173.8 1708.22,174.32 1721.63,175.87 1735.03,178.97 1748.44,197.07 1761.84,227.85 1775.25,271.03 1788.66,326.37 1802.06,363.1 1815.47,395.16 1828.87,413 1842.28,425.93 1855.68,430.33 1869.09,431.62 1882.49,432.4 1895.9,432.4 1909.3,432.4 1922.71,432.4 1936.11,432.4" fill="none" stroke="#ff7f0e" stroke-width="5" stroke-linejoin="round" stroke-linecap="square"/>
<path d="M1735.03 177.85V180.09M1748.44 194.78V199.36M1761.84 224.59V231.1M1775.25 267.16V274.91M1788.66 322.44V330.31M1802.06 359.55V366.64M1815.47 392.35V397.97M1828.87 410.9V415.11M1842.28 424.69V427.18" fill="none" stroke="#ff7f0e" stroke-width="5"/>
<polyline points="1614.39,173.8 1627.79,173.8 1641.2,173.8 1654.6,173.8 1668.01,173.8 1681.41,173.8 1694.82,173.8 1708.22,173.8 1721.63,173.8 1735.03,173.8 1748.44,173.8 1761.84,173.8 1775.25,173.8 1788.66,173.8 1802.06,173.8 1815.47,173.8 1828.87,173.8 1842.28,173.8 1855.68,173.8 1869.09,173.8 1882.49,173.8 1895.9,173.8 1909.3,178.97 1922.71,206.9 1936.11,303.1" fill="none" stroke="#2ca02c" stroke-width="5" stroke-linejoin="round" stroke-linecap="square"/>
<path d="M1909.3 175.73V182.21M1922.71 202.36V211.44M1936.11 294.1V312.1" fill="none" stroke="#2ca02c" stroke-width="5"/>
<rect x="1598.3" y="160.8" width="353.9" height="285" fill="none" stroke="#000" stroke-width="2.9"/>
<path d="M1614.39 445.8V456.2" stroke="#000" stroke-width="2.9"/>
<text transform="translate(1612.39 491.5) rotate(-45)" text-anchor="middle" font-size="29.8" y="10.86">0.0</text>
<path d="M1781.95 445.8V456.2" stroke="#000" stroke-width="2.9"/>
<text transform="translate(1779.95 491.5) rotate(-45)" text-anchor="middle" font-size="29.8" y="10.86">0.5</text>
<path d="M1949.52 445.8V456.2" stroke="#000" stroke-width="2.9"/>
<text transform="translate(1947.52 491.5) rotate(-45)" text-anchor="middle" font-size="29.8" y="10.86">1.0</text>
</g>
<path d="M1216.2 173.8H1226.6" stroke="#000" stroke-width="2.9"/>
<text x="1205.8" y="185.12" text-anchor="end" font-size="29.8">1.0</text>
<path d="M1216.2 303.1H1226.6" stroke="#000" stroke-width="2.9"/>
<text x="1205.8" y="314.42" text-anchor="end" font-size="29.8">0.5</text>
<path d="M1216.2 432.4H1226.6" stroke="#000" stroke-width="2.9"/>
<text x="1205.8" y="443.72" text-anchor="end" font-size="29.8">0.0</text>
<rect x="1233.9" y="395.3" width="85.8" height="46.5" rx="7" ry="7" fill="#808080" stroke="#000" stroke-width="3.4"/>
<text x="1241.5" y="426.8" font-size="29.8">*rGe</text>
<rect x="1605.7" y="395.3" width="80.3" height="46.5" rx="7" ry="7" fill="#808080" stroke="#000" stroke-width="3.4"/>
<text x="1613.3" y="426.8" font-size="29.8">*rLe</text>
<text transform="translate(1138.3 460.3) rotate(-90)" textLength="323.8" lengthAdjust="spacing" font-size="36.5">Cooperation Prop.</text>
<text x="1348.2" y="587.8" textLength="427.7" lengthAdjust="spacing" font-size="36.8">Initial Proportion of AllD</text>
<g id="legend-b">
<rect x="1325.4" y="72.2" width="447.1" height="53.1" rx="6" ry="6" fill="#fff" stroke="#ccc" stroke-width="3"/>
<path d="M1337.3 96.8H1397" stroke="#1f77b4" stroke-width="5" stroke-linecap="square"/>
<path d="M1367 81.9V111.7" stroke="#1f77b4" stroke-width="5"/>
<text x="1420.7" y="106.6" font-size="29.8">I</text>
<path d="M1489.4 96.8H1549.4" stroke="#ff7f0e" stroke-width="5" stroke-linecap="square"/>
<path d="M1519.2 81.9V111.7" stroke="#ff7f0e" stroke-width="5"/>
<text x="1572.8" y="106.6" font-size="29.8">II</text>
<path d="M1650.3 96.8H1710.3" stroke="#2ca02c" stroke-width="5" stroke-linecap="square"/>
<path d="M1680.3 81.9V111.7" stroke="#2ca02c" stroke-width="5"/>
<text x="1733.7" y="106.6" font-size="29.8">III</text>
</g>
<text class="cap" x="1549" y="654.9" text-anchor="middle" font-size="35.8">(b)</text>
</g>
</svg></body></html>
